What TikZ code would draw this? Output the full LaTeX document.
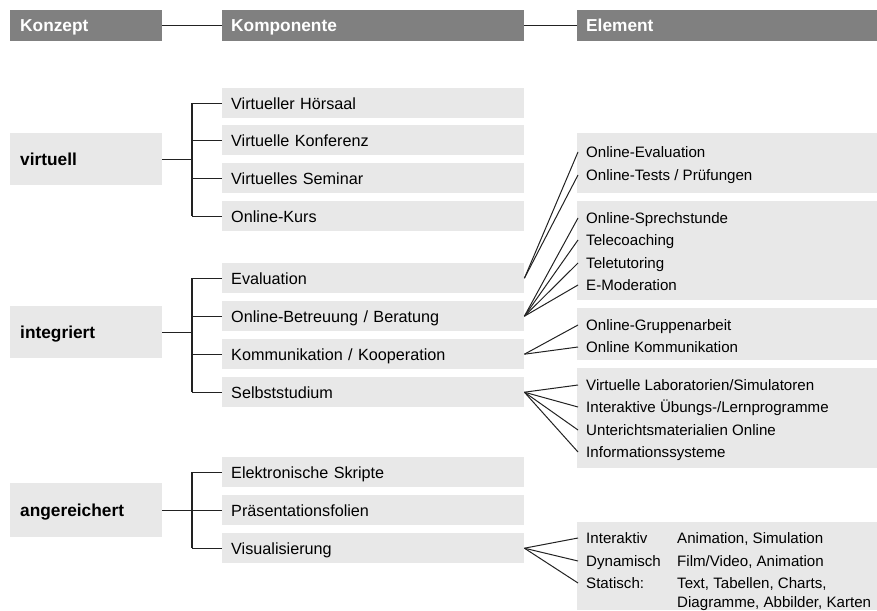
\documentclass[tikz,border=0pt]{standalone}
\usepackage{fontspec}
\setmainfont{Liberation Sans}
\definecolor{hdrgray}{HTML}{808080}
\definecolor{boxgray}{HTML}{E8E8E8}
\definecolor{linecol}{HTML}{222222}
\begin{document}
\begin{tikzpicture}[x=1pt,y=-1pt,
  hdr/.style={fill=hdrgray, text=white, font=\fontsize{17.3}{20}\selectfont\bfseries,
    anchor=north west, minimum height=31pt, inner ysep=0pt, text height=12.4pt,
    text depth=0pt, align=left},
  kbox/.style={fill=boxgray, font=\fontsize{17.3}{20}\selectfont\bfseries,
    anchor=north west, inner ysep=0pt, text height=12.4pt, text depth=0pt,
    text width=132pt, inner xsep=10pt, align=left},
  cbox/.style={fill=boxgray, font=\fontsize{16.2}{19}\selectfont,
    anchor=north west, minimum height=30pt, inner ysep=0pt, text height=11.6pt,
    text depth=0pt, text width=284pt, inner xsep=9pt, align=left},
  ebox/.style={fill=boxgray, anchor=north west, minimum width=300pt, inner sep=0pt},
  item/.style={anchor=base west, inner sep=0pt, text height=10.8pt, text depth=0pt,
    font=\fontsize{15.1}{18}\selectfont},
  conn/.style={draw=linecol, line width=1.1pt},
  fan/.style={draw=linecol, line width=1pt}
]
\useasboundingbox (0,0) rectangle (877,610);

% headers
\node[hdr, text width=132pt, inner xsep=10pt] (hK) at (10,10) {Konzept};
\node[hdr, text width=284pt, inner xsep=9pt] (hC) at (222,10) {Komponente};
\node[hdr, text width=282pt, inner xsep=9pt] (hE) at (577,10) {Element};
\draw[conn] (hK.east) -- (hC.west);
\draw[conn] (hC.east) -- (hE.west);

% Konzept boxes
\node[kbox, minimum height=52pt] (kv) at (10,133) {virtuell};
\node[kbox, minimum height=52pt] (ki) at (10,306) {integriert};
\node[kbox, minimum height=54pt] (ka) at (10,483) {angereichert};

% Komponenten
\node[cbox] (c1) at (222,88)  {Virtueller Hörsaal};
\node[cbox] (c2) at (222,125) {Virtuelle Konferenz};
\node[cbox] (c3) at (222,163) {Virtuelles Seminar};
\node[cbox] (c4) at (222,201) {Online-Kurs};

\node[cbox] (c5) at (222,263) {Evaluation};
\node[cbox] (c6) at (222,301) {Online-Betreuung / Beratung};
\node[cbox] (c7) at (222,339) {Kommunikation / Kooperation};
\node[cbox] (c8) at (222,377) {Selbststudium};

\node[cbox] (c9)  at (222,457) {Elektronische Skripte};
\node[cbox] (c10) at (222,495) {Präsentationsfolien};
\node[cbox] (c11) at (222,533) {Visualisierung};

% trees
\coordinate (tx) at (192,0);
\draw[conn] (kv.east) -- (kv.east -| tx);
\draw[conn] (c1.west -| tx) -- (c4.west -| tx);
\foreach \c in {c1,c2,c3,c4} \draw[conn] (\c.west -| tx) -- (\c.west);

\draw[conn] (ki.east) -- (ki.east -| tx);
\draw[conn] (c5.west -| tx) -- (c8.west -| tx);
\foreach \c in {c5,c6,c7,c8} \draw[conn] (\c.west -| tx) -- (\c.west);

\draw[conn] (ka.east) -- (ka.east -| tx);
\draw[conn] (c9.west -| tx) -- (c11.west -| tx);
\foreach \c in {c9,c10,c11} \draw[conn] (\c.west -| tx) -- (\c.west);

% Element boxes
\node[ebox, minimum height=60pt]  (E1) at (577,133) {};
\node[ebox, minimum height=99pt]  (E2) at (577,201) {};
\node[ebox, minimum height=52pt]  (E3) at (577,308) {};
\node[ebox, minimum height=100pt] (E4) at (577,368) {};
\node[ebox, minimum height=88pt]  (E5) at (577,522) {};

% Element items
\node[item] (e1) at (586,157.4) {Online-Evaluation};
\node[item] (e2) at (586,180.4) {Online-Tests / Prüfungen};

\node[item] (e3) at (586,223.4) {Online-Sprechstunde};
\node[item] (e4) at (586,245.4) {Telecoaching};
\node[item] (e5) at (586,268.4) {Teletutoring};
\node[item] (e6) at (586,290.4) {E-Moderation};

\node[item] (e7) at (586,330.4) {Online-Gruppenarbeit};
\node[item] (e8) at (586,352.4) {Online Kommunikation};

\node[item] (e9)  at (586,390.4) {Virtuelle Laboratorien/Simulatoren};
\node[item] (e10) at (586,412.4) {Interaktive Übungs-/Lernprogramme};
\node[item] (e11) at (586,435.4) {Unterichtsmaterialien Online};
\node[item] (e12) at (586,457.4) {Informationssysteme};

\node[item] (e13) at (586,543.4) {Interaktiv};
\node[item] (e14) at (586,566.4) {Dynamisch};
\node[item] (e15) at (586,588.4) {Statisch:};
\node[item] (f13) at (677,543.4) {Animation, Simulation};
\node[item] (f14) at (677,566.4) {Film/Video, Animation};
\node[item] (f15) at (677,588.4) {Text, Tabellen, Charts,};
\node[item] (f16) at (677,607.4) {Diagramme, Abbilder, Karten};

% fan connectors
\foreach \e in {e1,e2} \draw[fan] (c5.east) -- ([xshift=-8pt]\e.west);
\foreach \e in {e3,e4,e5,e6} \draw[fan] (c6.east) -- ([xshift=-8pt]\e.west);
\foreach \e in {e7,e8} \draw[fan] (c7.east) -- ([xshift=-8pt]\e.west);
\foreach \e in {e9,e10,e11,e12} \draw[fan] (c8.east) -- ([xshift=-8pt]\e.west);
\foreach \e in {e13,e14,e15} \draw[fan] (c11.east) -- ([xshift=-8pt]\e.west);
\end{tikzpicture}
\end{document}
